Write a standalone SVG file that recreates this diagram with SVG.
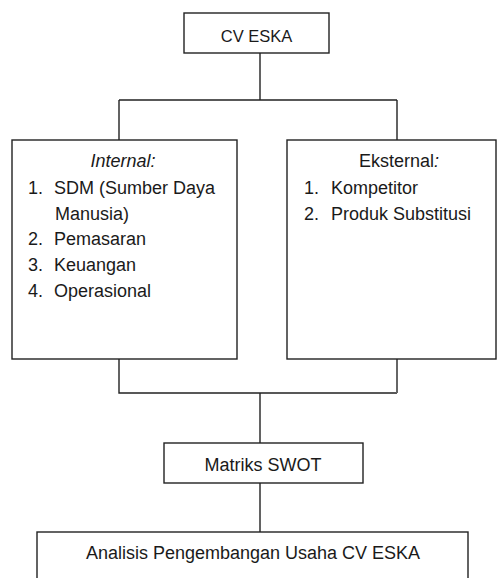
<svg xmlns="http://www.w3.org/2000/svg" width="497" height="578" viewBox="0 0 497 578">
<style>
.box{fill:#fff;stroke:#222;stroke-width:1.4}
.ln{fill:none;stroke:#222;stroke-width:1.4}
text{font-family:"Liberation Sans",Arial,sans-serif;font-size:18px;fill:#1a1a1a}
.c{text-anchor:middle}
</style>
<rect width="497" height="578" fill="#fff"/>
<g id="connectors">
<path class="ln" d="M260 53 V100 M119 100 H397 M119 100 V140 M397 100 V140"/>
<path class="ln" d="M119 354 V393 H397"/>
<path class="ln" d="M397 354 V393" style="stroke:#666;stroke-width:2"/>
<path class="ln" d="M260 393 V443 M260 483 V532"/>
</g>
<g id="cv-eska">
<rect class="box" x="184" y="13" width="145" height="40"/>
<text class="c" x="256.5" y="42" style="font-size:16.5px">CV ESKA</text>
</g>
<g id="internal">
<rect class="box" x="12" y="140" width="225" height="219"/>
<text class="c" x="123" y="167" style="font-style:italic">Internal:</text>
<text x="28" y="194">1.</text><text x="54" y="194">SDM (Sumber Daya</text>
<text x="55" y="220">Manusia)</text>
<text x="28" y="245">2.</text><text x="54" y="245">Pemasaran</text>
<text x="28" y="271">3.</text><text x="54" y="271">Keuangan</text>
<text x="28" y="297">4.</text><text x="54" y="297">Operasional</text>
</g>
<g id="eksternal">
<rect class="box" x="287" y="140" width="209" height="219"/>
<text class="c" x="399" y="167">Eksternal<tspan style="font-style:italic">:</tspan></text>
<text x="304" y="194">1.</text><text x="331" y="194">Kompetitor</text>
<text x="304" y="220">2.</text><text x="331" y="220">Produk Substitusi</text>
</g>
<g id="matriks-swot">
<rect class="box" x="164" y="443" width="199" height="40"/>
<text class="c" x="263" y="471">Matriks SWOT</text>
</g>
<g id="analisis">
<rect class="box" x="37" y="532" width="431" height="60"/>
<text class="c" x="253" y="559">Analisis Pengembangan Usaha CV ESKA</text>
</g>
</svg>
